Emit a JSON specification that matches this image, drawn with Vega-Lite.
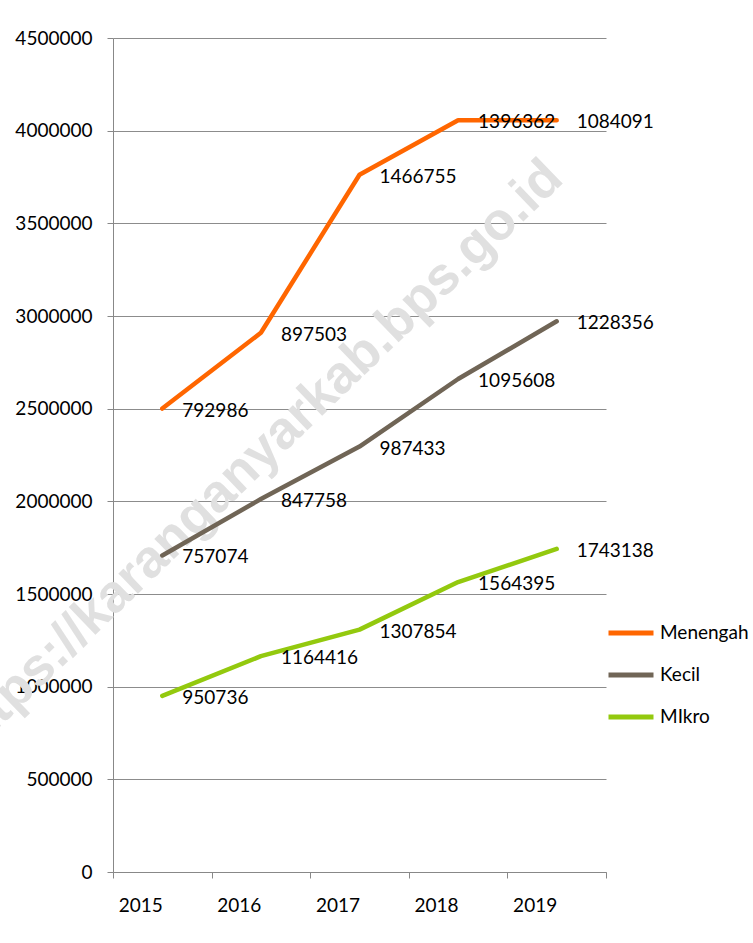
{
  "$schema": "https://vega.github.io/schema/vega-lite/v6.json",
  "width": 493,
  "height": 834,
  "autosize": {"type": "none"},
  "padding": {"left": 113, "top": 38, "right": 147, "bottom": 71},
  "background": "white",
  "config": {
    "font": "Lato",
    "view": {"stroke": null},
    "axis": {"labelFont": "Lato", "labelFontSize": 19, "labelColor": "#000000"}
  },
  "datasets": {
    "series": [
      {"year": "2015", "series": "MIkro", "ord": 1, "value": 950736},
      {"year": "2016", "series": "MIkro", "ord": 1, "value": 1164416},
      {"year": "2017", "series": "MIkro", "ord": 1, "value": 1307854},
      {"year": "2018", "series": "MIkro", "ord": 1, "value": 1564395},
      {"year": "2019", "series": "MIkro", "ord": 1, "value": 1743138},
      {"year": "2015", "series": "Kecil", "ord": 2, "value": 757074},
      {"year": "2016", "series": "Kecil", "ord": 2, "value": 847758},
      {"year": "2017", "series": "Kecil", "ord": 2, "value": 987433},
      {"year": "2018", "series": "Kecil", "ord": 2, "value": 1095608},
      {"year": "2019", "series": "Kecil", "ord": 2, "value": 1228356},
      {"year": "2015", "series": "Menengah", "ord": 3, "value": 792986},
      {"year": "2016", "series": "Menengah", "ord": 3, "value": 897503},
      {"year": "2017", "series": "Menengah", "ord": 3, "value": 1466755},
      {"year": "2018", "series": "Menengah", "ord": 3, "value": 1396362},
      {"year": "2019", "series": "Menengah", "ord": 3, "value": 1084091}
    ],
    "watermark": [
      {"year": "2016", "y": 2262000, "label": "https://karanganyarkab.bps.go.id"}
    ]
  },
  "layer": [
    {
      "data": {"name": "watermark"},
      "mark": {"type": "text", "font": "Liberation Sans", "fontWeight": "bold", "fontSize": 53, "color": "#e0e0e0", "angle": -44, "align": "center", "baseline": "middle", "dx": -9},
      "encoding": {
        "x": {"field": "year", "type": "ordinal", "bandPosition": 0.5},
        "y": {"field": "y", "type": "quantitative"},
        "text": {"field": "label"}
      }
    },
    {
      "data": {"name": "series"},
      "transform": [
        {"stack": "value", "groupby": ["year"], "sort": [{"field": "ord", "order": "ascending"}], "as": ["v0", "v1"]}
      ],
      "encoding": {
        "x": {
          "field": "year", "type": "ordinal", "bandPosition": 0.5,
          "scale": {"type": "band", "paddingInner": 0, "paddingOuter": 0},
          "axis": {"title": null, "labelAngle": 0, "tickBand": "extent", "tickSize": 6, "tickColor": "#888888", "domainColor": "#888888", "labelPadding": 27, "grid": false}
        },
        "y": {
          "field": "v1", "type": "quantitative",
          "scale": {"domain": [0, 4500000], "nice": false},
          "axis": {"title": null, "values": [0, 500000, 1000000, 1500000, 2000000, 2500000, 3000000, 3500000, 4000000, 4500000], "format": "d", "tickSize": 6, "tickColor": "#888888", "domainColor": "#888888", "gridColor": "#8c8c8c", "grid": true, "labelPadding": 15}
        }
      },
      "layer": [
        {
          "mark": {"type": "line", "strokeWidth": 4.5, "strokeCap": "round", "strokeJoin": "round"},
          "encoding": {
            "color": {
              "field": "series", "type": "nominal",
              "scale": {"domain": ["Menengah", "Kecil", "MIkro"], "range": ["#ff6600", "#706556", "#93c90e"]},
              "legend": {"title": null, "orient": "none", "legendX": 493, "legendY": 570, "symbolType": "stroke", "symbolSize": 2025, "symbolStrokeWidth": 5, "labelFont": "Lato", "labelFontSize": 19, "labelColor": "#000000", "labelOffset": 4, "rowPadding": 7, "padding": 0}
            }
          }
        },
        {
          "mark": {"type": "text", "align": "left", "baseline": "middle", "dx": 20, "dy": 2, "fontSize": 19, "font": "Lato", "color": "#000000"},
          "encoding": {"text": {"field": "value", "type": "quantitative", "format": "d"}}
        }
      ]
    }
  ]
}
